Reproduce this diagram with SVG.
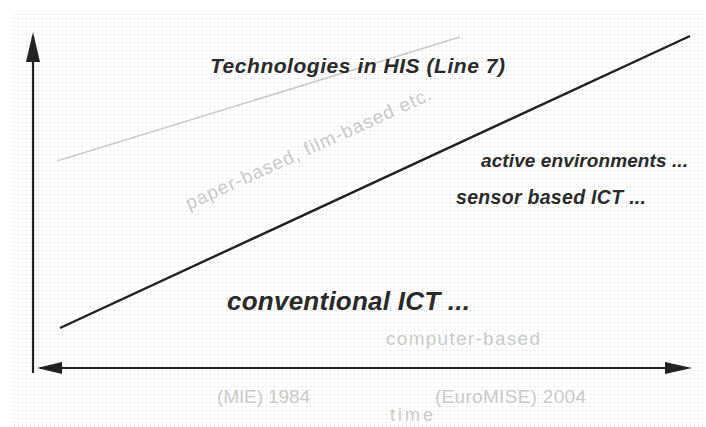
<svg xmlns="http://www.w3.org/2000/svg" width="706" height="427" viewBox="0 0 706 427">
<style>
.t{font-family:"Liberation Sans",Arial,sans-serif;font-style:italic;font-weight:bold;fill:#2a2a2a}
.g{font-family:"Liberation Sans",Arial,sans-serif;fill:#c9c9c9}
.ax{stroke:#222;stroke-width:2.2;fill:none}
</style>
<defs>
<pattern id="dots" x="14" y="14" width="4" height="4" patternUnits="userSpaceOnUse">
<rect x="0" y="0" width="1" height="1" fill="#d8d8d8"/>
</pattern>
</defs>
<rect width="706" height="427" fill="#fff"/>
<rect x="13" y="13" width="693" height="414" fill="url(#dots)"/>
<g id="connectors">
<line class="ax" x1="33" y1="373" x2="33" y2="36"/>
<path d="M33,32 L40,62 L26,62 Z" fill="#222"/>
<line class="ax" x1="40" y1="368" x2="688" y2="368"/>
<path d="M37,368 L62,362 L62,374 Z" fill="#222"/>
<path d="M692,368 L665,362 L665,374 Z" fill="#222"/>
<line x1="60" y1="328" x2="690" y2="36" stroke="#222" stroke-width="2.4"/>
<line x1="57" y1="161" x2="460" y2="37" stroke="#c9c9c9" stroke-width="1.5"/>
</g>
<g id="title"><text class="t" x="210" y="73" font-size="21" textLength="295" lengthAdjust="spacing">Technologies in HIS (Line 7)</text></g>
<g id="paper"><text class="g" x="0" y="0" font-size="19" textLength="268" lengthAdjust="spacing" transform="translate(189,210) rotate(-24.5)">paper-based, film-based etc.</text></g>
<g id="active"><text class="t" x="481" y="167" font-size="19" textLength="207" lengthAdjust="spacing">active environments ...</text></g>
<g id="sensor"><text class="t" x="456" y="204" font-size="19.5" textLength="190" lengthAdjust="spacing">sensor based ICT ...</text></g>
<g id="conventional"><text class="t" x="227" y="310" font-size="26" textLength="243" lengthAdjust="spacing">conventional ICT ...</text></g>
<g id="computer"><text class="g" x="386" y="345" font-size="19" textLength="154" lengthAdjust="spacing">computer-based</text></g>
<g id="mie"><text class="g" x="217" y="403" font-size="19" textLength="93" lengthAdjust="spacing">(MIE) 1984</text></g>
<g id="euromise"><text class="g" x="435" y="403" font-size="19" textLength="151" lengthAdjust="spacing">(EuroMISE) 2004</text></g>
<g id="time"><text class="g" x="390" y="421" font-size="18" textLength="43" lengthAdjust="spacing">time</text></g>
</svg>
